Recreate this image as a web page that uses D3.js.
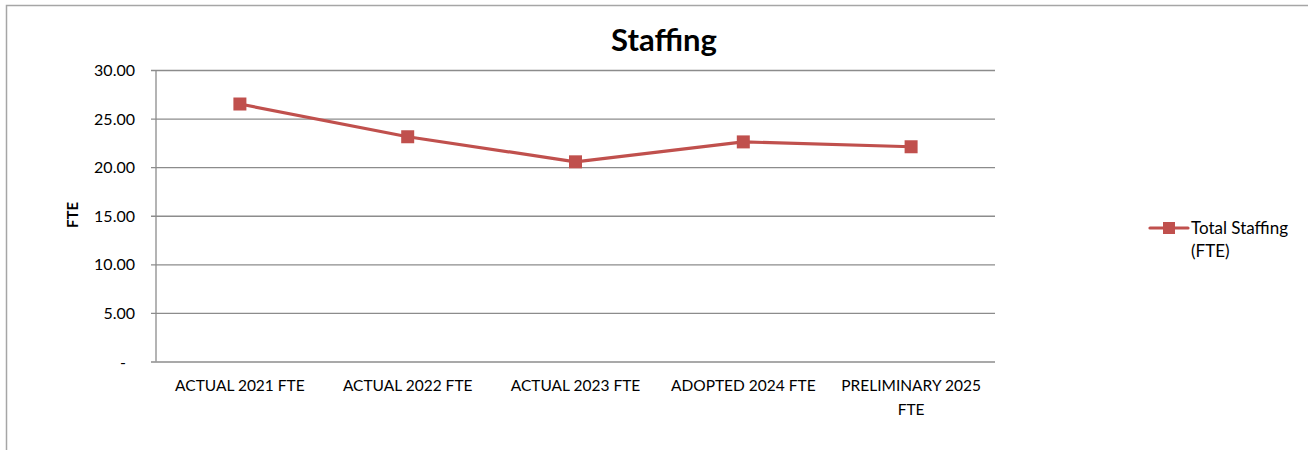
<!DOCTYPE html>
<html>
<head>
<meta charset="utf-8">
<script src="https://cdn.jsdelivr.net/npm/d3@7"></script>
<style>
  html, body { margin: 0; padding: 0; background: #fff; }
  svg { display: block; }
</style>
</head>
<body>
<svg id="chart" width="1308" height="450"></svg>
<script>
// Staffing levels by budget year
const categories = [
  ["ACTUAL 2021 FTE"],
  ["ACTUAL 2022 FTE"],
  ["ACTUAL 2023 FTE"],
  ["ADOPTED 2024 FTE"],
  ["PRELIMINARY 2025", "FTE"]
];
const staffing = [26.5, 23.13, 20.55, 22.6, 22.1];
const yTicks = [0, 5, 10, 15, 20, 25, 30];
const seriesName = ["Total Staffing", "(FTE)"];

const svg = d3.select("#chart");
const font = "Lato, 'Open Sans', sans-serif";
const lineColor = "#C0504D";
const gridColor = "#8c8c8c";

// outer chart frame
svg.append("rect")
  .attr("x", 6.5).attr("y", 5.5)
  .attr("width", 1320).attr("height", 460)
  .attr("fill", "none").attr("stroke", "#a6a6a6").attr("stroke-width", 1.5);

const plot = { left: 156, right: 995, top: 70, bottom: 361.5 };

const x = d3.scaleBand()
  .domain(categories.map((d, i) => i))
  .range([plot.left, plot.right]);
const y = d3.scaleLinear().domain([0, 30]).range([plot.bottom, plot.top]);

// title
svg.append("text")
  .attr("x", 664).attr("y", 51)
  .attr("text-anchor", "middle")
  .attr("font-family", font).attr("font-weight", "bold").attr("font-size", 31)
  .attr("fill", "#000").text("Staffing");

// horizontal gridlines with tick stubs on the left
const yAxis = d3.axisLeft(y)
  .tickValues(yTicks)
  .tickSize(plot.right - plot.left + 5)
  .tickFormat(d => d === 0 ? "-" : d3.format(".2f")(d));

const gy = svg.append("g")
  .attr("transform", `translate(${plot.right},0)`)
  .call(yAxis);
gy.select(".domain").remove();
gy.selectAll(".tick line").attr("stroke", gridColor).attr("stroke-width", 1.3);
gy.selectAll(".tick text")
  .attr("x", -(plot.right - plot.left) - 21)
  .attr("dy", "0.35em")
  .attr("font-family", font).attr("font-size", 16).attr("fill", "#000");
gy.selectAll(".tick").filter(d => d === 0).select("text").attr("x", -(plot.right - plot.left) - 30);

// vertical axis line
svg.append("line")
  .attr("x1", plot.left).attr("x2", plot.left)
  .attr("y1", plot.top).attr("y2", plot.bottom)
  .attr("stroke", gridColor).attr("stroke-width", 1.3);

// y-axis title
svg.append("text")
  .attr("transform", `translate(78,215) rotate(-90)`)
  .attr("text-anchor", "middle")
  .attr("font-family", font).attr("font-weight", "bold").attr("font-size", 15)
  .attr("fill", "#000").text("FTE");

// category labels
const xl = svg.append("g");
categories.forEach((lines, i) => {
  const t = xl.append("text")
    .attr("x", x(i) + x.bandwidth() / 2)
    .attr("y", 391)
    .attr("text-anchor", "middle")
    .attr("font-family", font).attr("font-size", 15.5).attr("fill", "#000");
  lines.forEach((ln, j) => {
    t.append("tspan")
      .attr("x", x(i) + x.bandwidth() / 2)
      .attr("dy", j === 0 ? 0 : 24)
      .text(ln);
  });
});

// series line
const line = d3.line()
  .x((d, i) => x(i) + x.bandwidth() / 2)
  .y(d => y(d));
svg.append("path")
  .datum(staffing)
  .attr("d", line)
  .attr("fill", "none").attr("stroke", lineColor).attr("stroke-width", 3.2)
  .attr("stroke-linejoin", "round");

// square markers
const ms = 13;
svg.selectAll("rect.marker")
  .data(staffing)
  .join("rect")
  .attr("class", "marker")
  .attr("x", (d, i) => x(i) + x.bandwidth() / 2 - ms / 2)
  .attr("y", d => y(d) - ms / 2)
  .attr("width", ms).attr("height", ms)
  .attr("fill", lineColor);

// legend
const lg = svg.append("g").attr("transform", "translate(1150,228)");
lg.append("line")
  .attr("x1", 0).attr("x2", 38).attr("y1", 0).attr("y2", 0)
  .attr("stroke", lineColor).attr("stroke-width", 3.2).attr("stroke-linecap", "round");
lg.append("rect")
  .attr("x", 19 - 6).attr("y", -6).attr("width", 12).attr("height", 12)
  .attr("fill", lineColor);
const lt = lg.append("text")
  .attr("x", 41).attr("y", 5.5)
  .attr("font-family", font).attr("font-size", 17).attr("fill", "#000");
seriesName.forEach((s, j) => {
  lt.append("tspan").attr("x", 41).attr("dy", j === 0 ? 0 : 23).text(s);
});
</script>
</body>
</html>
